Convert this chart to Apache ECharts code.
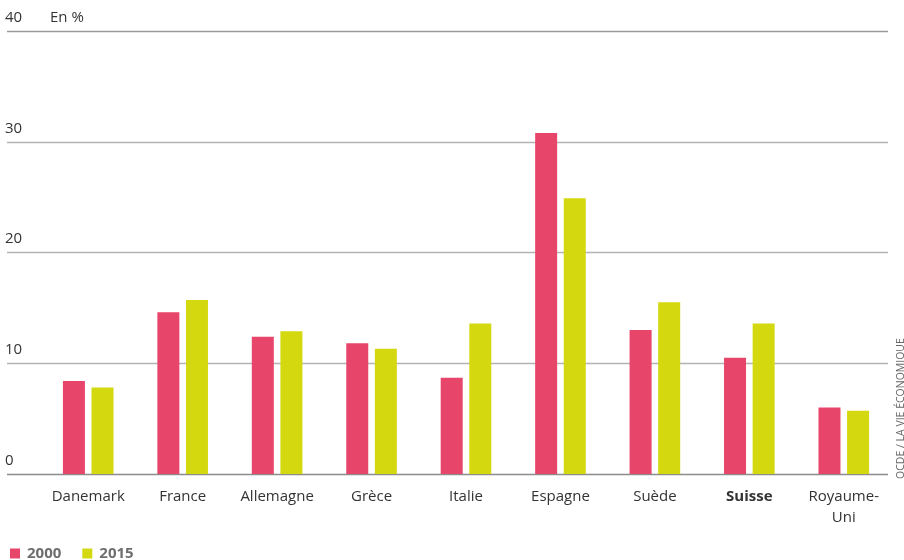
<!DOCTYPE html>
<html>
<head>
<meta charset="utf-8">
<script src="https://cdn.jsdelivr.net/npm/echarts@6/dist/echarts.min.js"></script>
<style>html,body{margin:0;padding:0;background:#fff}#c{width:904px;height:560px}</style>
</head>
<body>
<div id="c"></div>
<script>
const categories = ['Danemark','France','Allemagne','Grèce','Italie','Espagne','Suède','Suisse','Royaume-Uni'];
const values2000 = [8.4, 14.6, 12.4, 11.8, 8.7, 30.8, 13.0, 10.5, 6.0];
const values2015 = [7.8, 15.7, 12.9, 11.3, 13.6, 24.9, 15.5, 13.6, 5.7];
const seriesNames = ['2000', '2015'];
const yTicks = { min: 0, max: 40, interval: 10 };

const FONT = '"Open Sans", "Noto Sans", sans-serif';
const chart = echarts.init(document.getElementById('c'), null, { renderer: 'canvas' });
chart.setOption({
  animation: false,
  title: { text: 'En %', left: 45, top: 5, textStyle: { fontFamily: FONT, fontSize: 15, fontWeight: 'normal', color: '#333' } },
  legend: {
    left: 5, top: 541, icon: 'rect', itemWidth: 10, itemHeight: 10, itemGap: 21,
    data: seriesNames,
    textStyle: { fontFamily: FONT, fontSize: 15, fontWeight: 'bold', color: '#6e6e6e', padding: [0,0,0,2] }
  },
  grid: [
    { left: 7, right: 16, top: 31, bottom: 86 },
    { left: 41, right: 13, top: 31, bottom: 86 }
  ],
  xAxis: [
    { gridIndex: 0, type: 'value', show: false, min: 0, max: 1 },
    {
      gridIndex: 1, type: 'category', data: categories,
      axisLine: { show: false }, axisTick: { show: false },
      axisLabel: {
        interval: 0, margin: 12, fontFamily: FONT, fontSize: 15, color: '#333', lineHeight: 21,
        formatter: v => v === 'Suisse' ? '{b|' + v + '}' : v.replace('-', '-\n'),
        rich: { b: { fontFamily: FONT, fontSize: 15, fontWeight: 'bold', color: '#333' } }
      }
    }
  ],
  yAxis: [
    {
      gridIndex: 0, type: 'value', min: yTicks.min, max: yTicks.max, interval: yTicks.interval,
      axisLine: { show: false }, axisTick: { show: false },
      splitLine: { show: true, lineStyle: { color: ['#8c8c8c', '#b3b3b3', '#b3b3b3', '#b3b3b3', '#9a9a9a'], width: 1.3 } },
      axisLabel: { inside: true, margin: -2, verticalAlign: 'bottom', padding: [0,0,6,0], fontFamily: FONT, fontSize: 15, color: '#333' }
    },
    { gridIndex: 1, type: 'value', min: yTicks.min, max: yTicks.max, interval: yTicks.interval, show: false, splitLine: { show: false } }
  ],
  series: [
    { name: seriesNames[0], type: 'bar', xAxisIndex: 1, yAxisIndex: 1, data: values2000, barWidth: 22, barGap: '30%', itemStyle: { color: '#E8456A' } },
    { name: seriesNames[1], type: 'bar', xAxisIndex: 1, yAxisIndex: 1, data: values2015, barWidth: 22, barGap: '30%', itemStyle: { color: '#D4D80E' } }
  ],
  graphic: [
    { type: 'text', x: 901, y: 479, rotation: Math.PI / 2,
      style: { text: 'OCDE / LA VIE ÉCONOMIQUE', fontFamily: FONT, fontSize: 10.5, fill: '#666', textAlign: 'left', textVerticalAlign: 'middle' } }
  ]
});
</script>
</body>
</html>
